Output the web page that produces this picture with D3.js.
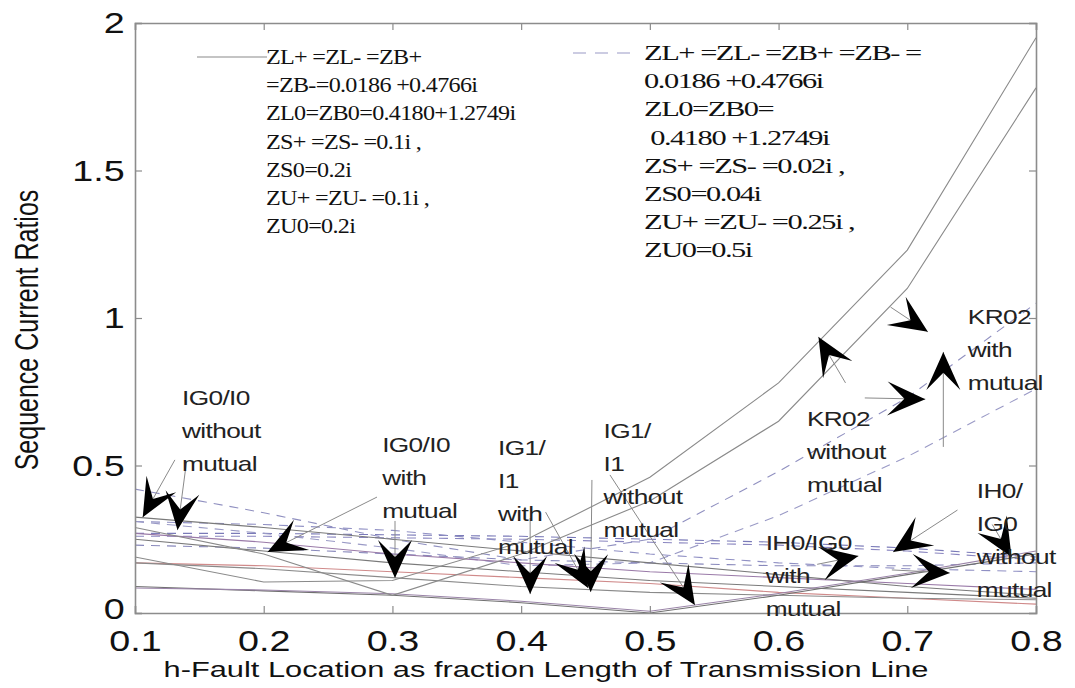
<!DOCTYPE html>
<html><head><meta charset="utf-8">
<script src="https://cdn.jsdelivr.net/npm/d3@7"></script>
<style>body{margin:0;background:#fff}svg{display:block}</style>
</head><body>
<svg id="chart" width="1075" height="688"></svg>
<script>
// ---------- data ----------
const faultLocation = [0.1, 0.2, 0.3, 0.4, 0.5, 0.6, 0.7, 0.8];
const xTicks = [0.1, 0.2, 0.3, 0.4, 0.5, 0.6, 0.7, 0.8];
const yTicks = [0, 0.5, 1, 1.5, 2];

// solid (case 1) series
const kr02Upper   = [0.19, 0.105, 0.11, 0.24, 0.46, 0.78, 1.23, 1.95];
const kr02Lower   = [0.29, 0.20, 0.06, 0.20, 0.38, 0.65, 1.10, 1.78];
const solidA      = [0.325, 0.29, 0.25, 0.21, 0.17, 0.13, 0.09, 0.06];
const solidB      = [0.25, 0.21, 0.17, 0.14, 0.11, 0.09, 0.07, 0.05];
const solidVA     = [0.09, 0.075, 0.06, 0.035, 0.0, 0.06, 0.13, 0.20];
const solidVB     = [0.085, 0.078, 0.065, 0.04, 0.006, 0.066, 0.135, 0.21];
const solidC      = [0.17, 0.15, 0.12, 0.09, 0.07, 0.06, 0.05, 0.045];
const redA        = [0.17, 0.16, 0.14, 0.12, 0.10, 0.07, 0.05, 0.03];
const purpleA     = [0.27, 0.24, 0.20, 0.17, 0.14, 0.12, 0.10, 0.08];
// dashed (case 2) series
const kr02DashUp  = [0.42, 0.34, 0.25, 0.18, 0.25, 0.48, 0.73, 1.05];
const kr02DashLo  = [0.31, 0.27, 0.22, 0.16, 0.17, 0.33, 0.53, 0.76];
const dashA       = [0.27, 0.27, 0.265, 0.26, 0.25, 0.24, 0.22, 0.19];
const dashB       = [0.26, 0.26, 0.255, 0.25, 0.24, 0.23, 0.21, 0.18];
const dashC       = [0.23, 0.22, 0.20, 0.18, 0.17, 0.16, 0.16, 0.17];
const dashD       = [0.31, 0.30, 0.28, 0.24, 0.20, 0.17, 0.15, 0.14];

const legendSolid = ["ZL+ =ZL- =ZB+", "=ZB-=0.0186 +0.4766i", "ZL0=ZB0=0.4180+1.2749i",
  "ZS+ =ZS- =0.1i ,", "ZS0=0.2i", "ZU+ =ZU- =0.1i ,", "ZU0=0.2i"];
const legendDashed = ["ZL+ =ZL- =ZB+ =ZB- =", "0.0186 +0.4766i", "ZL0=ZB0=", " 0.4180 +1.2749i",
  "ZS+ =ZS- =0.02i ,", "ZS0=0.04i", "ZU+ =ZU- =0.25i ,", "ZU0=0.5i"];

// annotation labels: [x, y] in data units of first baseline, lines
const labels = [
  {at:[0.1365, 0.706], lines:["IG0/I0","without","mutual"]},
  {at:[0.2920, 0.546], lines:["IG0/I0","with","mutual"]},
  {at:[0.3820, 0.536], lines:["IG1/","I1","with","mutual"]},
  {at:[0.4640, 0.593], lines:["IG1/","I1","without","mutual"]},
  {at:[0.6220, 0.634], lines:["KR02","without","mutual"]},
  {at:[0.7470, 0.980], lines:["KR02","with","mutual"]},
  {at:[0.5900, 0.214], lines:["IH0/IG0","with","mutual"]},
  {at:[0.7540, 0.390], lines:["IH0/","IG0","without","mutual"]}
];
// arrows: tail -> tip, data units
const arrows = [
  [[0.131,0.519],[0.106,0.325]], [[0.140,0.512],[0.133,0.281]],
  [[0.288,0.393],[0.203,0.207]], [[0.302,0.312],[0.302,0.119]],
  [[0.407,0.322],[0.407,0.064]], [[0.419,0.342],[0.452,0.085]],
  [[0.455,0.451],[0.454,0.071]], [[0.469,0.468],[0.535,0.027]],
  [[0.652,0.780],[0.631,0.936]], [[0.667,0.729],[0.714,0.725]],
  [[0.687,1.037],[0.716,0.953]], [[0.728,0.563],[0.728,0.885]],
  [[0.630,0.165],[0.662,0.193]], [[0.739,0.349],[0.689,0.207]],
  [[0.688,0.146],[0.733,0.136]], [[0.766,0.300],[0.781,0.190]]
];

// ---------- drawing ----------
const svg = d3.select("#chart");
const x = d3.scaleLinear().domain([0.1, 0.8]).range([135, 1036]);
const y = d3.scaleLinear().domain([0, 2]).range([613, 23]);
const sans = "Liberation Sans, Arial, sans-serif";
const serif = "Liberation Serif, Times New Roman, serif";

const series = [
  {v:dashA, c:"#7a7ab8", d:"9,7"}, {v:dashB, c:"#8a86c0", d:"9,7"},
  {v:dashC, c:"#8888bb", d:"9,7"}, {v:dashD, c:"#9090c4", d:"9,7"},
  {v:kr02DashUp, c:"#9090c0", d:"9,7"}, {v:kr02DashLo, c:"#9a9ac6", d:"9,7"},
  {v:redA, c:"#d08a8a"}, {v:purpleA, c:"#9a7aa8"},
  {v:solidA, c:"#7a7a7a"}, {v:solidB, c:"#7a7a7a"}, {v:solidC, c:"#8a8a8a"},
  {v:solidVA, c:"#707070"}, {v:solidVB, c:"#9a84a8"},
  {v:kr02Upper, c:"#8a8a8a"}, {v:kr02Lower, c:"#8a8a8a"}
];
const line = d3.line().x((d,i)=>x(faultLocation[i])).y(d=>y(d));
svg.append("g").selectAll("path").data(series).join("path")
  .attr("d", s=>line(s.v)).attr("fill","none")
  .attr("stroke", s=>s.c).attr("stroke-width",1.1)
  .attr("stroke-dasharray", s=>s.d||null);

// axes box
const axisColor = "#8c8c8c";
const gx = svg.append("g").attr("transform","translate(0,613)")
  .call(d3.axisBottom(x).tickValues(xTicks).tickSize(-7).tickFormat(d3.format(".1f")));
const gxt = svg.append("g").attr("transform","translate(0,23)")
  .call(d3.axisTop(x).tickValues(xTicks).tickSize(-7).tickFormat(""));
const gy = svg.append("g").attr("transform","translate(135,0)")
  .call(d3.axisLeft(y).tickValues(yTicks).tickSize(-7).tickFormat(d=>String(d)));
const gyr = svg.append("g").attr("transform","translate(1036,0)")
  .call(d3.axisRight(y).tickValues(yTicks).tickSize(-7).tickFormat(""));
[gx,gxt,gy,gyr].forEach(g=>{
  g.selectAll("path.domain").attr("stroke",axisColor).attr("stroke-width",1.6);
  g.selectAll(".tick line").attr("stroke",axisColor).attr("stroke-width",1.2);
});
gx.selectAll(".tick text").attr("font-family",sans)
  .attr("font-size",29).attr("fill","#111").attr("x",0).attr("y",17).attr("dy","0.71em")
  .attr("transform","scale(1.3,1)");
gy.selectAll(".tick text").attr("font-family",sans)
  .attr("font-size",29).attr("fill","#111").attr("x",-8).attr("dy","0.34em")
  .attr("transform","scale(1.3,1)");
gy.select(".tick text").attr("dy","0.2em");

// axis titles
svg.append("text").attr("transform","translate(546,677) scale(1.4,1)")
  .attr("text-anchor","middle").attr("font-family",sans)
  .attr("font-size",22).attr("fill","#111")
  .text("h-Fault Location as fraction Length of Transmission Line");
svg.append("text").attr("transform","translate(38,330) scale(1.3,1) rotate(-90)")
  .attr("text-anchor","middle").attr("font-family",sans)
  .attr("font-size",25).attr("fill","#111").text("Sequence Current Ratios");

// legends
svg.append("line").attr("x1",197).attr("x2",267).attr("y1",57).attr("y2",57)
  .attr("stroke","#8a8a8a").attr("stroke-width",1.1);
const lg1 = svg.append("g").attr("transform","translate(266,0) scale(1.15,1)");
lg1.selectAll("text").data(legendSolid).join("text")
  .attr("x",0).attr("y",(d,i)=>64+i*28.2).attr("font-family",serif).attr("font-size",21)
  .attr("fill","#111").attr("letter-spacing",-0.6).attr("xml:space","preserve").text(d=>d);
svg.append("line").attr("x1",573).attr("x2",636).attr("y1",53).attr("y2",53)
  .attr("stroke","#9a9ac6").attr("stroke-width",1.1).attr("stroke-dasharray","13,9");
const lg2 = svg.append("g").attr("transform","translate(644,0) scale(1.45,1)");
lg2.selectAll("text").data(legendDashed).join("text")
  .attr("x",0).attr("y",(d,i)=>60+i*28.2).attr("font-family",serif).attr("font-size",21)
  .attr("fill","#111").attr("letter-spacing",-1).attr("xml:space","preserve").text(d=>d);

// annotation arrows
const ag = svg.append("g");
arrows.forEach(([t0,t1])=>{
  const x0=x(t0[0]), y0=y(t0[1]), x1=x(t1[0]), y1=y(t1[1]);
  ag.append("line").attr("x1",x0).attr("y1",y0).attr("x2",x1).attr("y2",y1)
    .attr("stroke","#8a8a8a").attr("stroke-width",1);
  const dx=x1-x0, dy=y1-y0, len=Math.hypot(dx,dy), ux=dx/len, uy=dy/len, px=-uy, py=ux;
  const L=38, W=17;
  const pts=[[x1,y1],[x1-L*ux+W*px,y1-L*uy+W*py],[x1-0.55*L*ux,y1-0.55*L*uy],[x1-L*ux-W*px,y1-L*uy-W*py]];
  ag.append("polygon").attr("points",pts.map(p=>p.join(",")).join(" ")).attr("fill","#000");
});

// annotation labels
const lab = svg.append("g");
labels.forEach(l=>{
  const g = lab.append("g").attr("transform",`translate(${x(l.at[0])},${y(l.at[1])}) scale(1.25,1)`);
  g.selectAll("text").data(l.lines).join("text").attr("x",0).attr("y",(d,i)=>i*33)
    .attr("font-family",sans).attr("font-size",21)
    .attr("fill","#222").attr("letter-spacing",-0.5).text(d=>d);
});
</script>
</body></html>
